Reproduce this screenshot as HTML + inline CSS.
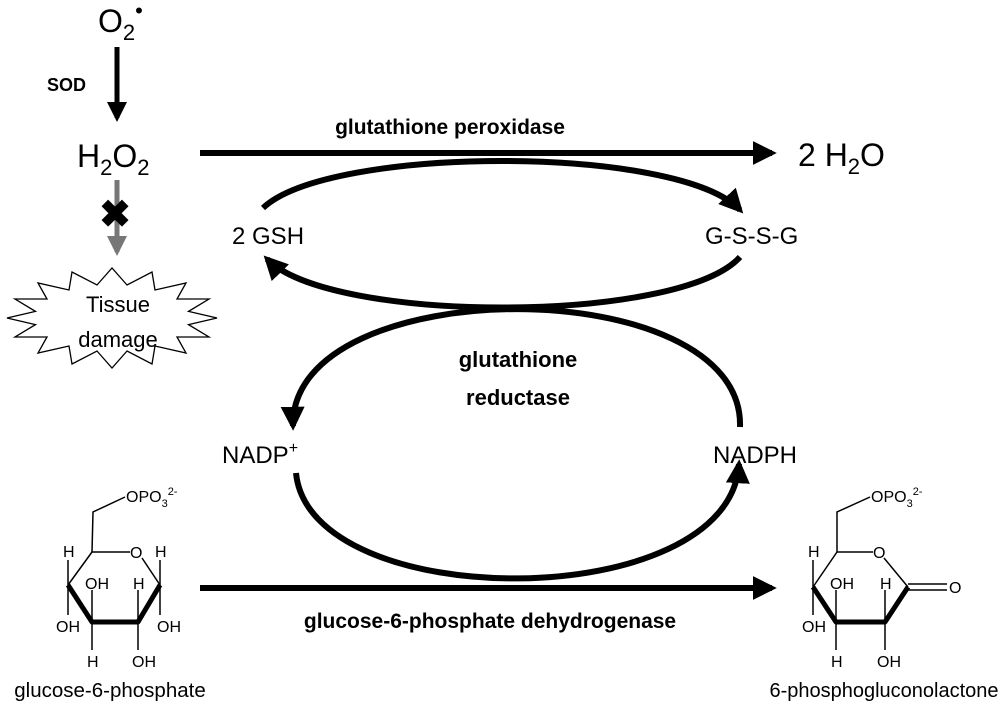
<!DOCTYPE html>
<html><head><meta charset="utf-8"><style>
html,body{margin:0;padding:0;background:#fff}
svg{display:block}
text{font-family:"Liberation Sans",sans-serif;fill:#000}
.b{font-weight:bold}
</style></head><body>
<svg width="1000" height="703" viewBox="0 0 1000 703" xmlns="http://www.w3.org/2000/svg">
<defs>
<marker id="a" viewBox="0 0 10 10" refX="8" refY="5" markerWidth="4" markerHeight="4" orient="auto" markerUnits="strokeWidth"><path d="M0,0 L10,5 L0,10 z" fill="#000"/></marker>
<marker id="g" viewBox="0 0 10 10" refX="8" refY="5" markerWidth="4" markerHeight="4" orient="auto" markerUnits="strokeWidth"><path d="M0,0 L10,5 L0,10 z" fill="#777"/></marker>
</defs>

<text x="98" y="32" font-size="32">O<tspan font-size="22" dy="8">2</tspan><tspan font-size="22" dy="-22">•</tspan></text>
<line x1="117" y1="47" x2="117" y2="118" stroke="#000" stroke-width="5" marker-end="url(#a)"/>
<text x="47" y="91" font-size="18" class="b">SOD</text>
<text x="77" y="167" font-size="32">H<tspan font-size="22" dy="8">2</tspan><tspan dy="-8">O</tspan><tspan font-size="22" dy="8">2</tspan></text>
<line x1="117" y1="180" x2="117" y2="252" stroke="#777" stroke-width="5" marker-end="url(#g)"/>
<text x="115" y="227" font-size="38" class="b" text-anchor="middle">✖</text>
<polygon fill="#fff" stroke="#000" stroke-width="1.3" points="217,318 188.5,324.6 209,337 177,337 186,353 155,346 152,364 127,351 112,368 97,351 72,364 69,346 38,353 47,337 15,337 35.5,324.6 7,318 35.5,311.4 15,299 47,299 38,283 69,290 72,272 97,285 112,268 127,285 152,272 155,290 186,283 177,299 209,299 188.5,311.4"/>
<text x="118" y="312" font-size="22" text-anchor="middle">Tissue</text>
<text x="118" y="347" font-size="22" text-anchor="middle">damage</text>

<line x1="200" y1="153" x2="772" y2="153" stroke="#000" stroke-width="6" marker-end="url(#a)"/>
<text x="450" y="134" font-size="21" class="b" text-anchor="middle">glutathione peroxidase</text>
<text x="798" y="166" font-size="32">2 H<tspan font-size="22" dy="8">2</tspan><tspan dy="-8">O</tspan></text>

<path d="M263,208 C330,145 680,145 740,210" fill="none" stroke="#000" stroke-width="6" marker-end="url(#a)"/>
<path d="M740,257 C680,324 330,324 267,259" fill="none" stroke="#000" stroke-width="6" marker-end="url(#a)"/>
<text x="232" y="244" font-size="24">2 GSH</text>
<text x="705" y="244" font-size="24">G-S-S-G</text>

<path d="M740,427 C745,270 290,270 293,426" fill="none" stroke="#000" stroke-width="6" marker-end="url(#a)"/>
<path d="M296,473 C310,615 730,615 739,464" fill="none" stroke="#000" stroke-width="6" marker-end="url(#a)"/>
<text x="518" y="367" font-size="22" class="b" text-anchor="middle">glutathione</text>
<text x="518" y="405" font-size="22" class="b" text-anchor="middle">reductase</text>
<text x="222" y="463" font-size="24">NADP<tspan font-size="16" dy="-10">+</tspan></text>
<text x="713" y="463" font-size="24">NADPH</text>

<line x1="200" y1="588" x2="772" y2="588" stroke="#000" stroke-width="6" marker-end="url(#a)"/>
<text x="490" y="628" font-size="21" class="b" text-anchor="middle">glucose-6-phosphate dehydrogenase</text>

<g stroke="#000" stroke-width="1.5" fill="none">
<polyline points="125,497 93,512 92,552 130,552"/>
<line x1="92" y1="552" x2="68" y2="585"/>
<line x1="142" y1="558" x2="160" y2="585"/>
<line x1="68" y1="560" x2="68" y2="615"/>
<line x1="160" y1="560" x2="160" y2="615"/>
<line x1="92" y1="590" x2="92" y2="650"/>
<line x1="138" y1="590" x2="138" y2="650"/>
</g>
<polyline points="68,585 92,622 138,622 160,585" fill="none" stroke="#000" stroke-width="5" stroke-linejoin="round"/>
<g font-size="16">
<text x="126" y="502">OPO<tspan font-size="11" dy="5">3</tspan><tspan font-size="11" dy="-12">2-</tspan></text>
<text x="130" y="558">O</text>
<text x="63" y="557">H</text>
<text x="155" y="557">H</text>
<text x="85" y="589">OH</text>
<text x="133" y="589">H</text>
<text x="56" y="632">OH</text>
<text x="157" y="632">OH</text>
<text x="87" y="667">H</text>
<text x="132" y="667">OH</text>
</g>
<text x="110" y="697" font-size="20.5" text-anchor="middle">glucose-6-phosphate</text>

<g stroke="#000" stroke-width="1.5" fill="none">
<polyline points="870,497 837,512 837,552 873,552"/>
<line x1="837" y1="552" x2="813" y2="587"/>
<line x1="884" y1="558" x2="908" y2="587"/>
<line x1="908" y1="584" x2="947" y2="584"/>
<line x1="908" y1="590" x2="947" y2="590"/>
<line x1="813" y1="560" x2="813" y2="615"/>
<line x1="836" y1="590" x2="836" y2="650"/>
<line x1="885" y1="590" x2="885" y2="650"/>
</g>
<polyline points="813,587 836,622 885,622 908,587" fill="none" stroke="#000" stroke-width="5" stroke-linejoin="round"/>
<g font-size="16">
<text x="871" y="502">OPO<tspan font-size="11" dy="5">3</tspan><tspan font-size="11" dy="-12">2-</tspan></text>
<text x="873" y="558">O</text>
<text x="949" y="593">O</text>
<text x="808" y="557">H</text>
<text x="830" y="589">OH</text>
<text x="880" y="589">H</text>
<text x="802" y="632">OH</text>
<text x="831" y="667">H</text>
<text x="877" y="667">OH</text>
</g>
<text x="884" y="697" font-size="20" text-anchor="middle">6-phosphogluconolactone</text>
</svg>
</body></html>
